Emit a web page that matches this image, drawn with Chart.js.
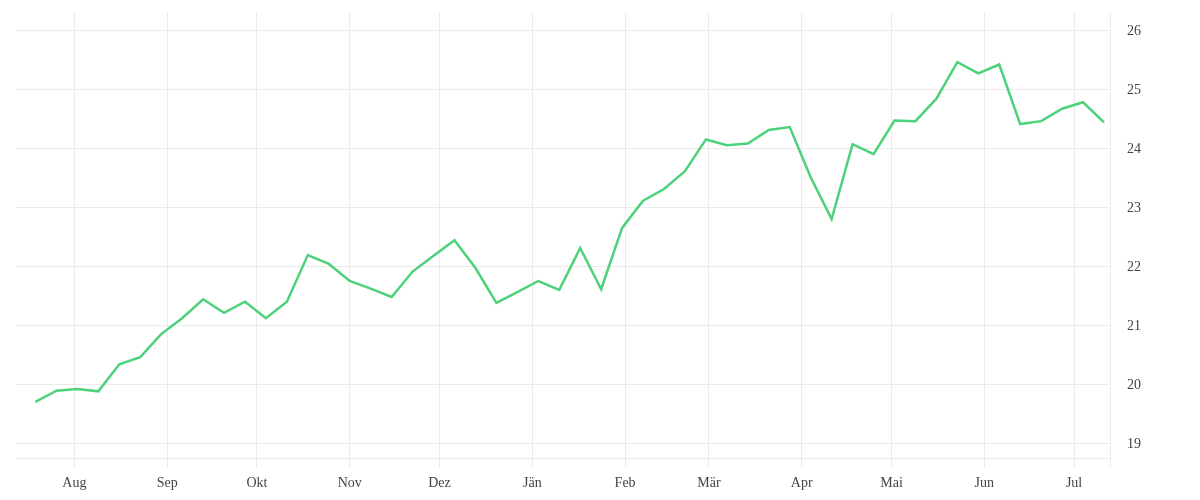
<!DOCTYPE html>
<html lang="de">

<head>
    <meta charset="UTF-8">
    <title>Wochenwerte</title>
    <script src="https://cdn.jsdelivr.net/npm/chart.js"></script>
    <style>
        html, body {
            margin: 0;
            padding: 0;
            background: #ffffff;
        }

        #chart-container {
            width: 1200px;
            height: 500px;
        }
    </style>
</head>

<body>
    <div id="chart-container">
        <canvas id="weeklyChart"></canvas>
    </div>

    <script>
        // weekly dates (one point per week)
        var weeks = [
            '2022-07-19', '2022-07-26', '2022-08-02', '2022-08-09', '2022-08-16', '2022-08-23', '2022-08-30',
            '2022-09-06', '2022-09-13', '2022-09-20', '2022-09-27', '2022-10-04', '2022-10-11', '2022-10-18',
            '2022-10-25', '2022-11-01', '2022-11-08', '2022-11-15', '2022-11-22', '2022-11-29', '2022-12-06',
            '2022-12-13', '2022-12-20', '2022-12-27', '2023-01-03', '2023-01-10', '2023-01-17', '2023-01-24',
            '2023-01-31', '2023-02-07', '2023-02-14', '2023-02-21', '2023-02-28', '2023-03-07', '2023-03-14',
            '2023-03-21', '2023-03-28', '2023-04-04', '2023-04-11', '2023-04-18', '2023-04-25', '2023-05-02',
            '2023-05-09', '2023-05-16', '2023-05-23', '2023-05-30', '2023-06-06', '2023-06-13', '2023-06-20',
            '2023-06-27', '2023-07-04', '2023-07-11'
        ];

        var values = [
            19.71, 19.90, 19.93, 19.89, 20.35, 20.47, 20.86,
            21.13, 21.45, 21.22, 21.41, 21.13, 21.41, 22.20,
            22.05, 21.76, 21.63, 21.49, 21.92, 22.19, 22.45,
            21.98, 21.39, 21.57, 21.76, 21.61, 22.32, 21.62,
            22.66, 23.12, 23.32, 23.62, 24.16, 24.06, 24.09,
            24.32, 24.37, 23.52, 22.81, 24.08, 23.91, 24.48,
            24.47, 24.85, 25.47, 25.28, 25.43, 24.42, 24.47,
            24.68, 24.79, 24.45
        ];

        // month ticks on the x axis
        var monthStarts = [
            '2022-08-01', '2022-09-01', '2022-10-01', '2022-11-01', '2022-12-01', '2023-01-01',
            '2023-02-01', '2023-03-01', '2023-04-01', '2023-05-01', '2023-06-01', '2023-07-01'
        ];
        var monthLabels = ['Aug', 'Sep', 'Okt', 'Nov', 'Dez', 'Jän', 'Feb', 'Mär', 'Apr', 'Mai', 'Jun', 'Jul'];

        var yTicks = [19, 20, 21, 22, 23, 24, 25, 26];

        var xRange = ['2022-07-12T12:00:00Z', '2023-07-13T00:00:00Z'];
        var yRange = [18.76, 26.32];

        function toTime(s) {
            return new Date(s.length === 10 ? s + 'T00:00:00Z' : s).getTime();
        }

        var points = weeks.map(function (w, i) {
            return { x: toTime(w), y: values[i] };
        });

        var labelByTime = {};
        monthStarts.forEach(function (m, i) {
            labelByTime[toTime(m)] = monthLabels[i];
        });

        var gridColor = '#ebebeb';
        var tickFont = { family: '"Liberation Serif", serif', size: 14 };

        // drop the extra padding chart.js reserves for edge labels
        function noPadding(axis) {
            axis.paddingTop = 0;
            axis.paddingBottom = 0;
            axis.paddingLeft = 0;
            axis.paddingRight = 0;
        }

        var ctx = document.getElementById('weeklyChart').getContext('2d');
        var weeklyChart = new Chart(ctx, {
            type: 'line',
            data: {
                datasets: [
                    {
                        data: points,
                        borderColor: '#4dd27b',
                        backgroundColor: '#4dd27b',
                        borderWidth: 2.5,
                        pointRadius: 0,
                        tension: 0,
                        fill: false
                    }
                ]
            },
            options: {
                responsive: true,
                maintainAspectRatio: false,
                animation: false,
                layout: {
                    padding: { left: 16, top: 12, right: 0, bottom: 0 }
                },
                plugins: {
                    legend: { display: false },
                    tooltip: { enabled: false }
                },
                scales: {
                    x: {
                        type: 'linear',
                        bounds: 'data',
                        min: toTime(xRange[0]),
                        max: toTime(xRange[1]),
                        afterBuildTicks: function (axis) {
                            var t = monthStarts.map(function (m) { return { value: toTime(m) }; });
                            t.push({ value: toTime(xRange[1]) });
                            axis.ticks = t;
                        },
                        afterFit: function (axis) {
                            axis.height = 42;
                            noPadding(axis);
                        },
                        grid: {
                            color: gridColor,
                            lineWidth: 1,
                            drawTicks: true,
                            tickLength: 10
                        },
                        border: {
                            display: true,
                            color: gridColor
                        },
                        ticks: {
                            autoSkip: false,
                            maxRotation: 0,
                            padding: 7,
                            color: '#444444',
                            font: tickFont,
                            callback: function (value) {
                                return labelByTime[value] || '';
                            }
                        }
                    },
                    y: {
                        position: 'right',
                        bounds: 'data',
                        min: yRange[0],
                        max: yRange[1],
                        afterBuildTicks: function (axis) {
                            axis.ticks = yTicks.map(function (v) { return { value: v }; });
                        },
                        afterFit: function (axis) {
                            axis.width = 90;
                            noPadding(axis);
                        },
                        grid: {
                            color: gridColor,
                            lineWidth: 1,
                            drawTicks: false
                        },
                        border: {
                            display: false
                        },
                        ticks: {
                            padding: 17,
                            color: '#444444',
                            font: tickFont,
                            callback: function (value) {
                                return String(value);
                            }
                        }
                    }
                }
            }
        });
    </script>
</body>

</html>
